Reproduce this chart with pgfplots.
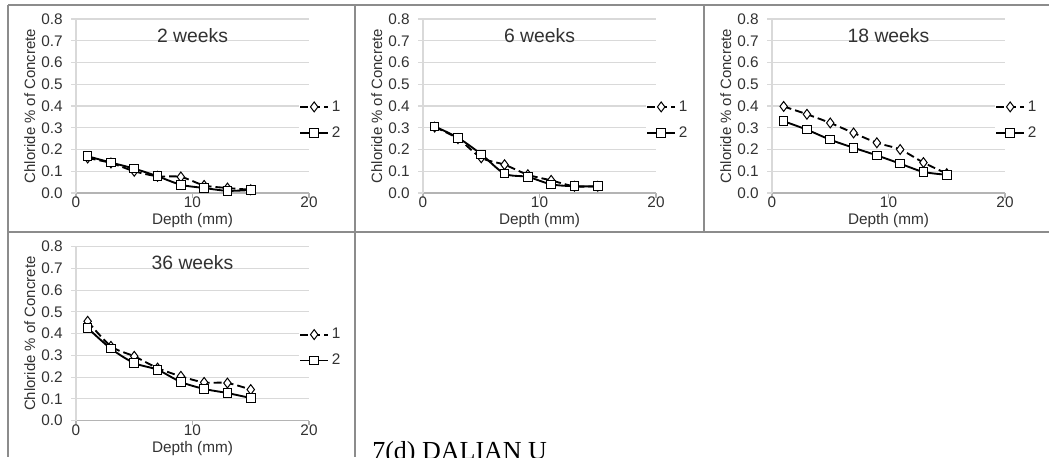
\documentclass[border=0pt]{standalone}
\usepackage{fontspec}
\setmainfont{Liberation Sans}
\newfontfamily\seriffont{Liberation Serif}
\usepackage{pgfplots}
\pgfplotsset{compat=1.18}

\definecolor{txt}{RGB}{50,50,50}
\definecolor{gridc}{RGB}{217,217,217}
\definecolor{axisc}{RGB}{180,180,180}
\definecolor{framec}{RGB}{140,140,140}

\pgfplotsset{
  panel/.style={
    scale only axis, width=174.75pt, height=130.5pt, anchor=south west,
    xmin=0, xmax=20, ymin=0, ymax=0.8,
    xtick={0,10,20}, ytick={0,0.1,...,0.8},
    axis x line=bottom, axis y line=left,
    x axis line style={-, draw=axisc, line width=0.8pt},
    y axis line style={-, draw=gridc, line width=0.8pt},
    ymajorgrids, grid style={gridc, line width=0.8pt},
    tick align=outside, major tick length=3.5pt,
    xtick style={draw=axisc, line width=0.8pt},
    ytick style={draw=gridc, line width=0.8pt},
    /pgf/number format/assume math mode=true,
    ticklabel style={font=\fontsize{11.5}{13}\selectfont, text=txt},
    xticklabel style={yshift=4pt},
    yticklabel style={xshift=-3pt, /pgf/number format/.cd, fixed, fixed zerofill, precision=1},
    xlabel={Depth (mm)}, ylabel={Chloride \% of Concrete},
    xlabel style={at={(rel axis cs:0.5,-0.158)}, anchor=center, font=\fontsize{11.5}{13}\selectfont, text=txt},
    ylabel style={at={(rel axis cs:-0.198,0.5)}, anchor=center, rotate=0, font=\fontsize{11.2}{13}\selectfont, text=txt},
    legend cell align=left,
    legend style={at={(rel axis cs:0.957,0.42)}, anchor=west, draw=none, fill=white,
      inner sep=0pt, row sep=6pt, font=\fontsize{11.5}{13}\selectfont, text=txt,
      /tikz/every even column/.append style={column sep=5pt}},
    legend image code/.code={\draw[mark repeat=2,mark phase=2,#1] plot coordinates {(0pt,0pt) (10.5pt,0pt) (21pt,0pt)};},
  },
  s1/.style={black, line width=1.4pt, dash pattern=on 6pt off 3pt, smooth,
    mark=diamond*, mark size=3.7pt, mark options={solid, fill=white, line width=0.75pt}},
  s2/.style={black, line width=1.4pt, smooth,
    mark=square*, mark size=3.2pt, mark options={solid, fill=white, line width=0.75pt}},
}

\begin{document}
\begin{tikzpicture}
\clip (0pt,0pt) rectangle (786.75pt,-342.75pt);
\fill[white] (0pt,0pt) rectangle (786.75pt,-342.75pt);

% panel frames
\draw[framec, line width=1.2pt] (6pt,-3.75pt) -- (786.75pt,-3.75pt);
\draw[framec, line width=1.2pt] (6pt,-174pt) -- (786.75pt,-174pt);
\draw[framec, line width=1.2pt] (6pt,-3.75pt) -- (6pt,-342.75pt);
\draw[framec, line width=1.2pt] (266.25pt,-3.75pt) -- (266.25pt,-342.75pt);
\draw[framec, line width=1.2pt] (528pt,-3.75pt) -- (528pt,-174pt);

% 2 weeks
\begin{axis}[panel, at={(57pt,-144.75pt)}]
\addplot[s1] coordinates {(1,0.161) (3,0.138) (5,0.100) (7,0.077) (9,0.074) (11,0.035) (13,0.023) (15,0.015)};
\addlegendentry{1}
\addplot[s2] coordinates {(1,0.169) (3,0.140) (5,0.112) (7,0.077) (9,0.038) (11,0.023) (13,0.010) (15,0.014)};
\addlegendentry{2}
\node[font=\fontsize{14.5}{16}\selectfont, text=txt] at (axis cs:10,0.725) {2 weeks};
\end{axis}

% 6 weeks
\begin{axis}[panel, at={(317.25pt,-144.75pt)}]
\addplot[s1] coordinates {(1,0.303) (3,0.250) (5,0.162) (7,0.130) (9,0.084) (11,0.058) (13,0.031) (15,0.031)};
\addlegendentry{1}
\addplot[s2] coordinates {(1,0.306) (3,0.254) (5,0.178) (7,0.089) (9,0.074) (11,0.040) (13,0.031) (15,0.031)};
\addlegendentry{2}
\node[font=\fontsize{14.5}{16}\selectfont, text=txt] at (axis cs:10,0.725) {6 weeks};
\end{axis}

% 18 weeks
\begin{axis}[panel, at={(579pt,-144.75pt)}]
\addplot[s1] coordinates {(1,0.398) (3,0.362) (5,0.322) (7,0.276) (9,0.231) (11,0.200) (13,0.140) (15,0.089)};
\addlegendentry{1}
\addplot[s2] coordinates {(1,0.330) (3,0.291) (5,0.245) (7,0.208) (9,0.173) (11,0.135) (13,0.097) (15,0.084)};
\addlegendentry{2}
\node[font=\fontsize{14.5}{16}\selectfont, text=txt] at (axis cs:10,0.725) {18 weeks};
\end{axis}

% 36 weeks
\begin{axis}[panel, at={(57pt,-315.5pt)}]
\addplot[s1] coordinates {(1,0.457) (3,0.342) (5,0.296) (7,0.242) (9,0.204) (11,0.176) (13,0.173) (15,0.143)};
\addlegendentry{1}
\addplot[s2] coordinates {(1,0.426) (3,0.331) (5,0.265) (7,0.234) (9,0.178) (11,0.146) (13,0.127) (15,0.104)};
\addlegendentry{2}
\node[font=\fontsize{14.5}{16}\selectfont, text=txt] at (axis cs:10,0.725) {36 weeks};
\end{axis}

\node[anchor=base west, inner sep=0pt, font=\seriffont\fontsize{19.5}{22}\selectfont] at (279pt,-344.25pt) {7(d) DALIAN U};
\end{tikzpicture}
\end{document}
